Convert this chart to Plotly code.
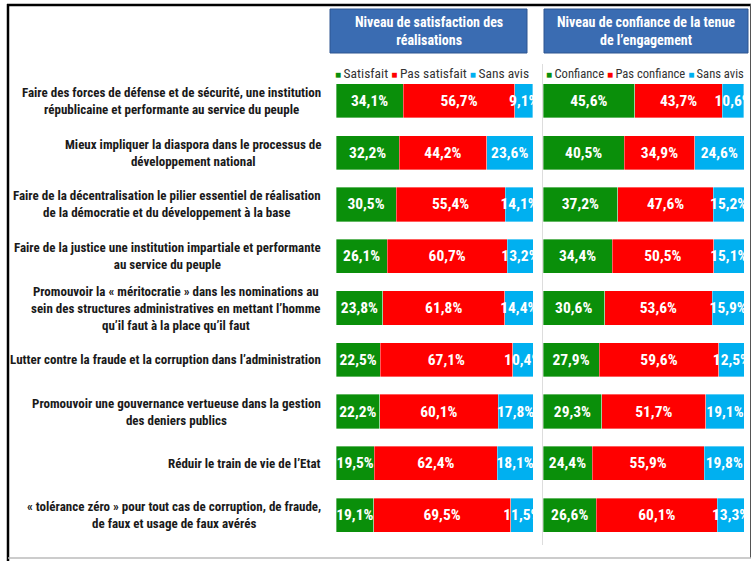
import plotly.graph_objects as go

categories = [
    "Faire des forces de défense et de sécurité, une institution<br>républicaine et performante au service du peuple",
    "Mieux impliquer la diaspora dans le processus de<br>développement national",
    "Faire de la décentralisation le pilier essentiel de réalisation<br>de la démocratie et du développement à la base",
    "Faire de la justice une institution impartiale et performante<br>au service du peuple",
    "Promouvoir la « méritocratie » dans les nominations au<br>sein des structures administratives en mettant l’homme<br>qu’il faut à la place qu’il faut",
    "Lutter contre la fraude et la corruption dans l’administration",
    "Promouvoir une gouvernance vertueuse dans la gestion<br>des deniers publics",
    "Réduir le train de vie de l’Etat",
    "« tolérance zéro » pour tout cas de corruption, de fraude,<br>de faux et usage de faux avérés",
]

satisfait = [34.1, 32.2, 30.5, 26.1, 23.8, 22.5, 22.2, 19.5, 19.1]
pas_satisfait = [56.7, 44.2, 55.4, 60.7, 61.8, 67.1, 60.1, 62.4, 69.5]
sans_avis_sat = [9.1, 23.6, 14.1, 13.2, 14.4, 10.4, 17.8, 18.1, 11.5]

confiance = [45.6, 40.5, 37.2, 34.4, 30.6, 27.9, 29.3, 24.4, 26.6]
pas_confiance = [43.7, 34.9, 47.6, 50.5, 53.6, 59.6, 51.7, 55.9, 60.1]
sans_avis_conf = [10.6, 24.6, 15.2, 15.1, 15.9, 12.5, 19.1, 19.8, 13.3]

left_series = ["Satisfait", "Pas satisfait", "Sans avis"]
right_series = ["Confiance", "Pas confiance", "Sans avis"]
panel_titles = ["Niveau de satisfaction des<br>réalisations",
                "Niveau de confiance de la tenue<br>de l’engagement"]

GREEN, RED, BLUE = "#0a8f0a", "#ff0000", "#00b0f0"
colors = [GREEN, RED, BLUE]
W, H = 752, 561
FONT = "Roboto, Arial, sans-serif"


def cond(t):
    return f"<span style='font-stretch:condensed'>{t}</span>"


def cond_lines(t):
    return "<br>".join(cond(l) for l in t.split("<br>"))


ykeys = list(range(len(categories)))

fig = go.Figure()

for xa, names, series in [
    ("x", left_series, [satisfait, pas_satisfait, sans_avis_sat]),
    ("x2", right_series, [confiance, pas_confiance, sans_avis_conf]),
]:
    for name, vals, col in zip(names, series, colors):
        fig.add_trace(go.Bar(
            x=vals, y=ykeys, orientation="h", name=name,
            xaxis=xa, yaxis="y" if xa == "x" else "y2",
            marker=dict(color=col, line=dict(width=0.6, color="rgba(255,255,255,0.6)")),
            texttemplate=cond("%{x:.1f}%"), textposition="inside", textangle=0,
            insidetextanchor="middle", constraintext="none",
            textfont=dict(family=FONT, size=15.5, color="white", weight="bold"),
            showlegend=False,
        ))


def px_x(p):
    return p / W


def px_y(p):
    return 1 - p / H


ydom = [px_y(541), px_y(75)]
fig.update_layout(
    width=W, height=H, barmode="stack", bargap=0.34,
    margin=dict(l=0, r=0, t=0, b=0),
    paper_bgcolor="white", plot_bgcolor="white",
    separators=", ",
    xaxis=dict(domain=[px_x(336), px_x(533)], range=[0, 100], visible=False),
    xaxis2=dict(domain=[px_x(543), px_x(744)], range=[0, 100], visible=False),
    yaxis=dict(domain=ydom, range=[8.5, -0.5], visible=False, anchor="x"),
    yaxis2=dict(domain=ydom, range=[8.5, -0.5], visible=False, anchor="x2"),
)

shapes = []
# outer frame
shapes.append(dict(type="line", xref="paper", yref="paper", x0=px_x(7), x1=px_x(751), y0=px_y(5), y1=px_y(5), line=dict(color="black", width=2.5)))
shapes.append(dict(type="line", xref="paper", yref="paper", x0=px_x(8), x1=px_x(8), y0=px_y(4), y1=px_y(561), line=dict(color="black", width=2.5)))
shapes.append(dict(type="line", xref="paper", yref="paper", x0=px_x(750.5), x1=px_x(750.5), y0=px_y(4), y1=px_y(558), line=dict(color="#555555", width=1)))
shapes.append(dict(type="line", xref="paper", yref="paper", x0=px_x(8), x1=px_x(751), y0=px_y(558), y1=px_y(558), line=dict(color="#bbbbbb", width=1.5)))
# separator between panels
shapes.append(dict(type="line", xref="paper", yref="paper", x0=px_x(542.5), x1=px_x(542.5), y0=px_y(64), y1=px_y(545), line=dict(color="#dddddd", width=1)))
# header boxes
for (x0, x1) in [(330, 527), (544, 748)]:
    shapes.append(dict(type="rect", xref="paper", yref="paper", x0=px_x(x0), x1=px_x(x1), y0=px_y(53), y1=px_y(9),
                       fillcolor="#3a6cb2", line=dict(color="#2c5590", width=1)))
fig.update_layout(shapes=shapes)

annotations = []
for title, (x0, x1) in zip(panel_titles, [(330, 527), (544, 748)]):
    annotations.append(dict(xref="paper", yref="paper", x=px_x((x0 + x1) / 2), y=px_y(31),
                            text=cond_lines(title),
                            showarrow=False, xanchor="center", yanchor="middle", align="center",
                            font=dict(family=FONT, size=14, color="white", weight="bold")))

# legends built as text rows
for names, xstart, fsize in [(left_series, 333, 13.5), (right_series, 544, 12.6)]:
    parts = []
    for n, c in zip(names, colors):
        parts.append(f"<span style='color:{c};font-size:10px'>■</span>\u2009{n}")
    annotations.append(dict(xref="paper", yref="paper", x=px_x(xstart), y=px_y(73),
                            text=cond(" ".join(parts)), showarrow=False, xanchor="left", yanchor="middle",
                            font=dict(family=FONT, size=fsize, color="#333333")))

# category labels
for i, cat in enumerate(categories):
    annotations.append(dict(xref="paper", yref="y", x=px_x(323), y=i, text=cond_lines(cat),
                            showarrow=False, xanchor="right", yanchor="middle", align="center",
                            font=dict(family=FONT, size=13, color="#1a1a1a", weight="bold")))
fig.update_layout(annotations=annotations)

fig.write_html("out.html", config={"displayModeBar": False},
               post_script="document.body.style.margin='0';")
